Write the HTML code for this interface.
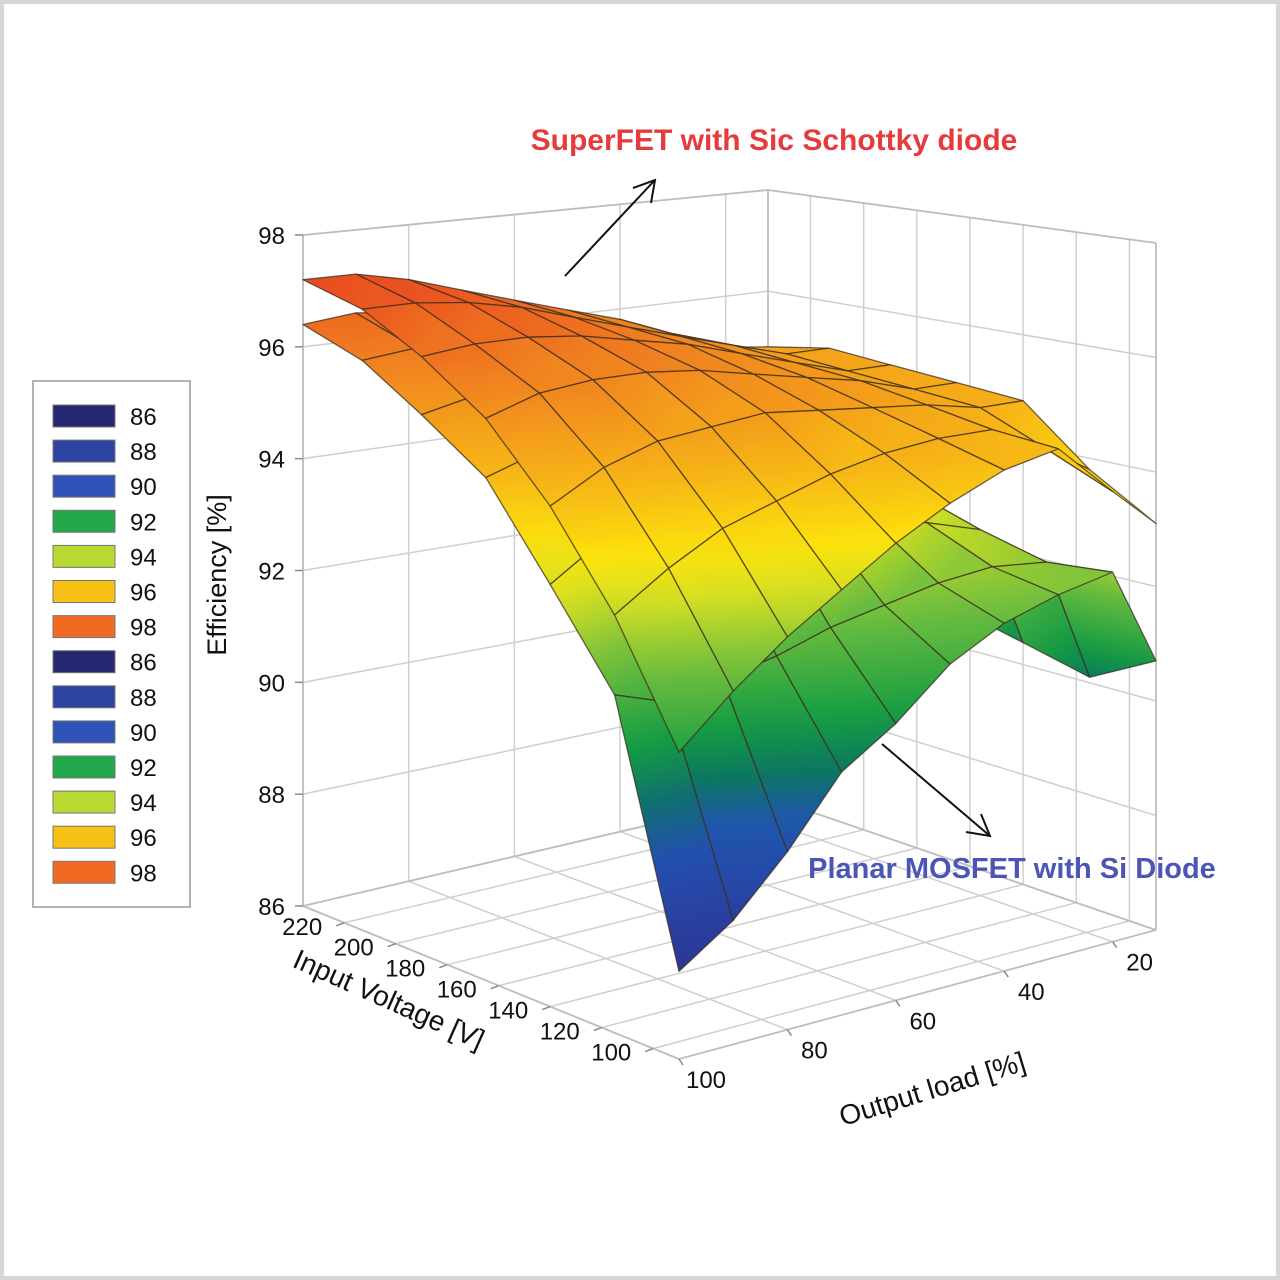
<!DOCTYPE html>
<html>
<head>
<meta charset="utf-8">
<style>
  html,body{margin:0;padding:0;background:#fff;}
  #wrap{position:relative;width:1280px;height:1280px;overflow:hidden;background:#fff;}
  svg{position:absolute;left:0;top:0;}
  text{font-family:"Liberation Sans",Arial,sans-serif;}
</style>
</head>
<body>
<div id="wrap">
<svg id="chart" width="1280" height="1280" viewBox="0 0 1280 1280">
  <defs id="defs"></defs>
  <rect x="2" y="2" width="1276" height="1276" fill="#fff" stroke="#d6d6d6" stroke-width="4"/>
  <g id="walls"></g>
  <g id="surfaces"></g>
  <g id="axes"></g>
  <g id="annot">
    <text x="774" y="150" text-anchor="middle" font-size="30" font-weight="bold" fill="#e63a3c">SuperFET with Sic Schottky diode</text>
    <line x1="565" y1="276" x2="655" y2="180" stroke="#111" stroke-width="2"/>
    <polyline points="633,188 655,180 651,203" fill="none" stroke="#111" stroke-width="2"/>
    <text x="1012" y="878" text-anchor="middle" font-size="29" font-weight="bold" fill="#4a55b5">Planar MOSFET with Si Diode</text>
    <line x1="882" y1="744" x2="990" y2="836" stroke="#111" stroke-width="2"/>
    <polyline points="966,832 990,836 981,814" fill="none" stroke="#111" stroke-width="2"/>
  </g>
  <g id="legend">
    <rect x="33" y="381" width="157" height="526" fill="#fff" stroke="#999" stroke-width="1.5"/>
  </g>
</svg>
</div>
<script>
// ---- data ----
const voltages = [236, 213, 190, 165, 140, 115, 90];
const loads = [100, 90, 80, 70, 60, 50, 40, 30, 20, 12];
const superfetEff = [
  [97.2,97.2,97.0,96.7,96.4,96.1,95.8,95.4,95.0,94.9],
  [96.9,96.9,96.8,96.6,96.3,96.0,95.7,95.4,95.1,95.1],
  [96.3,96.4,96.4,96.3,96.1,95.9,95.6,95.3,95.0,95.0],
  [95.5,95.8,95.9,95.9,95.8,95.6,95.4,95.2,94.9,94.9],
  [94.3,94.8,95.1,95.2,95.3,95.2,95.1,95.0,94.8,94.8],
  [92.8,93.4,93.9,94.2,94.5,94.7,94.8,94.8,94.3,93.8],
  [90.9,91.7,92.4,93.0,93.6,94.1,94.5,94.7,93.8,93.1]
];
const planarEff = [
  [96.4,96.5,96.4,96.1,95.8,95.4,95.0,94.5,93.8,91.5],
  [96.0,96.1,96.0,95.8,95.5,95.1,94.7,94.2,93.6,91.2],
  [95.3,95.5,95.5,95.3,95.0,94.7,94.3,93.9,93.3,91.0],
  [94.5,94.8,94.8,94.6,94.4,94.1,93.8,93.5,93.0,90.7],
  [93.0,93.6,93.8,93.7,93.5,93.3,93.1,92.9,92.6,90.4],
  [91.5,91.2,91.4,91.6,91.9,92.1,92.3,92.4,92.3,90.1],
  [87.4,88.0,88.9,90.0,90.6,91.4,91.9,92.2,92.4,90.7]
];
const effTicks = [86, 88, 90, 92, 94, 96, 98];
const voltTicks = [220, 200, 180, 160, 140, 120, 100];
const loadTicks = [100, 80, 60, 40, 20];
const legendLabels = [86,88,90,92,94,96,98,86,88,90,92,94,96,98];

// ---- axis functions ----
const V_HI = 236, V_LO = 90, L_HI = 100, L_LO = 12, E_MIN = 86, E_MAX = 98;
const C = {L:[303,906,671], F:[679,1059,751], R:[1156,930,687], B:[768,797,607]};
function uOf(v){ return (V_HI - v) / (V_HI - V_LO); }
function wOf(l){ return (L_HI - l) / (L_HI - L_LO); }
function bil(u,w,k){ return (1-u)*(1-w)*C.L[k] + u*(1-w)*C.F[k] + u*w*C.R[k] + (1-u)*w*C.B[k]; }
function projUW(u,w,e){
  const x = bil(u,w,0), fy = bil(u,w,1), H = bil(u,w,2);
  return [x, fy - (e - E_MIN)/(E_MAX - E_MIN)*H];
}
function proj(v,l,e){ return projUW(uOf(v), wOf(l), e); }

const stops = [[86,[38,40,120]],[88,[43,62,160]],[89.3,[32,84,178]],[90,[12,118,96]],[90.7,[20,156,66]],
  [92,[110,190,62]],[93,[214,224,34]],[93.6,[252,226,12]],[94.5,[247,184,22]],[96,[240,128,32]],[97,[234,82,32]],[98,[224,42,26]]];
function cmap(e){
  if(e<=stops[0][0]) return rgb(stops[0][1]);
  for(let i=1;i<stops.length;i++){
    if(e<=stops[i][0]){
      const a=stops[i-1], b=stops[i], t=(e-a[0])/(b[0]-a[0]);
      return rgb(a[1].map((c,k)=>c+(b[1][k]-c)*t));
    }
  }
  return rgb(stops[stops.length-1][1]);
}
function rgb(a){ return 'rgb('+a.map(x=>Math.round(x)).join(',')+')'; }

const NS='http://www.w3.org/2000/svg';
function mk(tag, attrs, parent){
  const el=document.createElementNS(NS,tag);
  for(const k in attrs) el.setAttribute(k,attrs[k]);
  parent.appendChild(el); return el;
}
const walls=document.getElementById('walls');
const axes=document.getElementById('axes');
const surf=document.getElementById('surfaces');
const defs=document.getElementById('defs');
const legend=document.getElementById('legend');

function line(p,q,parent,col,wd,name){
  const el=mk('line',{x1:p[0],y1:p[1],x2:q[0],y2:q[1],stroke:col,'stroke-width':wd},parent);
  
  
  return el;
}
const G='#cfcfcf';
// back-left wall (u=0) & back-right wall (w=1) horizontal grid
effTicks.forEach(e=>{
  line(projUW(0,0,e),projUW(0,1,e),walls,G,1.5,'grid-line-left-wall');
  line(projUW(0,1,e),projUW(1,1,e),walls,G,1.5,'grid-line-right-wall');
});
loadTicks.forEach(l=>{
  const w=wOf(l);
  line(projUW(0,w,E_MIN),projUW(0,w,E_MAX),walls,G,1.5,'grid-line-load-wall');
  line(projUW(0,w,E_MIN),projUW(1,w,E_MIN),walls,G,1.5,'grid-line-load-floor');
});
voltTicks.forEach(v=>{
  const u=uOf(v);
  line(projUW(u,1,E_MIN),projUW(u,1,E_MAX),walls,G,1.5,'grid-line-voltage-wall');
  line(projUW(u,0,E_MIN),projUW(u,1,E_MIN),walls,G,1.5,'grid-line-voltage-floor');
});
// box edges
const E='#bdbdbd';
line(projUW(0,0,E_MIN),projUW(0,0,E_MAX),walls,E,1.8,'left-axis-edge');
line(projUW(0,1,E_MIN),projUW(0,1,E_MAX),walls,E,1.8,'back-edge');
line(projUW(1,1,E_MIN),projUW(1,1,E_MAX),walls,E,1.8,'right-edge');
line(projUW(0,0,E_MAX),projUW(0,1,E_MAX),walls,E,1.8,'top-left-edge');
line(projUW(0,1,E_MAX),projUW(1,1,E_MAX),walls,E,1.8,'top-right-edge');
line(projUW(0,0,E_MIN),projUW(0,1,E_MIN),walls,E,1.8,'floor-back-edge');
line(projUW(0,1,E_MIN),projUW(1,1,E_MIN),walls,E,1.8,'floor-right-back-edge');
line(projUW(0,0,E_MIN),projUW(1,0,E_MIN),walls,E,1.8,'voltage-axis-line');
line(projUW(1,0,E_MIN),projUW(1,1,E_MIN),walls,E,1.8,'load-axis-line');

// surfaces
let gid=0;
function drawSurface(data,name){
  const quads=[];
  for(let i=0;i<voltages.length-1;i++){
    for(let j=0;j<loads.length-1;j++){
      const pts=[[i,j],[i+1,j],[i+1,j+1],[i,j+1]].map(([a,b])=>({
        p:proj(voltages[a],loads[b],data[a][b]), e:data[a][b]}));
      const depth=(uOf(voltages[i])+uOf(voltages[i+1]))/2-(wOf(loads[j])+wOf(loads[j+1]))/2;
      quads.push({pts,depth});
    }
  }
  quads.sort((a,b)=>a.depth-b.depth);
  quads.forEach(q=>{
    let mn=q.pts[0],mx=q.pts[0];
    q.pts.forEach(t=>{ if(t.e<mn.e) mn=t; if(t.e>mx.e) mx=t; });
    const id='g'+(gid++);
    let x1=mn.p[0],y1=mn.p[1],x2=mx.p[0],y2=mx.p[1];
    if(Math.abs(x2-x1)+Math.abs(y2-y1)<1){ y2=y1-1; }
    const lg=mk('linearGradient',{id:id,gradientUnits:'userSpaceOnUse',x1:x1,y1:y1,x2:x2,y2:y2},defs);
    const N=5;
    for(let k=0;k<=N;k++){
      mk('stop',{offset:(k/N),'stop-color':cmap(mn.e+(mx.e-mn.e)*k/N)},lg);
    }
    const poly=mk('polygon',{points:q.pts.map(t=>t.p[0].toFixed(1)+','+t.p[1].toFixed(1)).join(' '),
      fill:'url(#'+id+')',stroke:'rgba(60,45,30,0.75)','stroke-width':1.3,'stroke-linejoin':'round'},surf);
    
    
  });
}
drawSurface(planarEff,'planar-mosfet-surface');
drawSurface(superfetEff,'superfet-surface');

// axis ticks & labels
function txt(x,y,s,size,anchor,parent,name,rot){
  const t=mk('text',{x:x,y:y,'font-size':size,'text-anchor':anchor,fill:'#111'},parent);
  if(rot!==undefined) t.setAttribute('transform','rotate('+rot+' '+x+' '+y+')');
  t.textContent=s;
  
  
  return t;
}
effTicks.forEach(e=>{
  const p=projUW(0,0,e);
  line([p[0]-8,p[1]],p,axes,'#888',1.5,'efficiency-tick');
  txt(p[0]-18,p[1]+9,String(e),24,'end',axes,'efficiency-tick-label');
});
voltTicks.forEach(v=>{
  const p=projUW(uOf(v),0,E_MIN);
  line(p,[p[0]-8,p[1]+3],axes,'#888',1.5,'voltage-tick');
  txt(p[0]-42,p[1]+12,String(v),24,'middle',axes,'voltage-tick-label');
});
loadTicks.forEach(l=>{
  const p=projUW(1,wOf(l),E_MIN);
  line(p,[p[0]+4,p[1]+6],axes,'#888',1.5,'load-tick');
  txt(p[0]+27,p[1]+29,String(l),24,'middle',axes,'load-tick-label');
});
txt(226,575,'Efficiency [%]',27,'middle',axes,'z-axis-title',-90);
txt(385,1008,'Input Voltage [V]',28,'middle',axes,'x-axis-title',24);
txt(935,1098,'Output load [%]',28,'middle',axes,'y-axis-title',-17);

// legend
const legendColors=['#262671','#2c43a0','#2f52b6','#22a84a','#b8d832','#f8c014','#f06a22'];
legendLabels.forEach((lab,i)=>{
  const y=416+i*35.1;
  const r=mk('rect',{x:53,y:y-11,width:62,height:22,fill:legendColors[i%7],stroke:'#777','stroke-width':1},legend);
  
  
  txt(130,y+9,String(lab),24,'start',legend,'legend-label-'+lab);
});
</script>
</body>
</html>
